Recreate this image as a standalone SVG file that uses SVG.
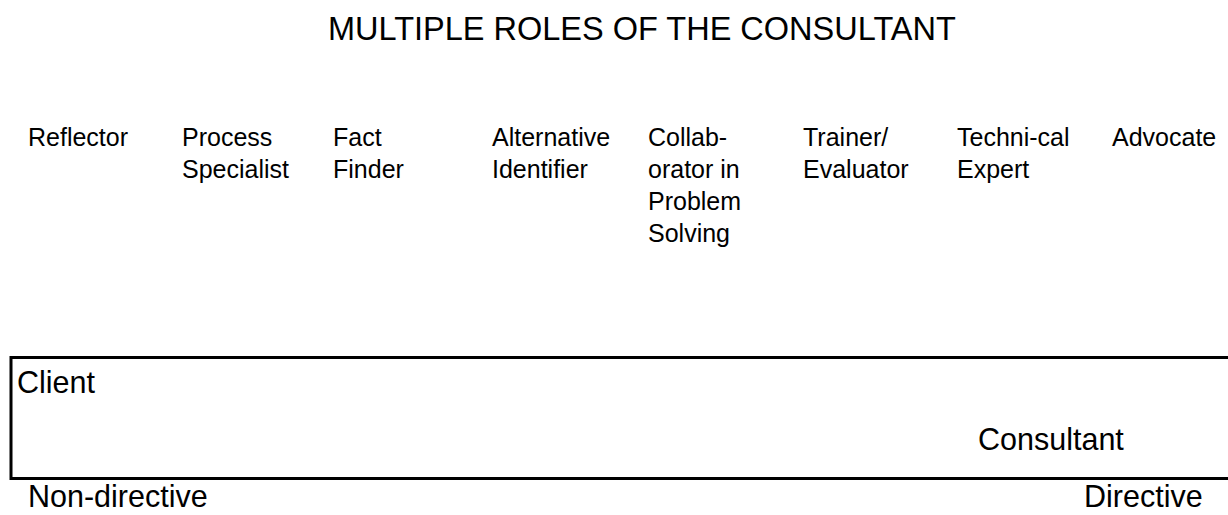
<svg xmlns="http://www.w3.org/2000/svg" width="1228" height="515" viewBox="0 0 1228 515">
<style>
text{font-family:"Liberation Sans",Arial,sans-serif;fill:#000}
.title{font-size:32.5px}
.lbl{font-size:25px}
.big{font-size:30.5px}
.box{fill:none;stroke:#000;stroke-width:3}
</style>
<rect width="1228" height="515" fill="#fff"/>
<g id="title"><text class="title" x="328" y="40">MULTIPLE ROLES OF THE CONSULTANT</text></g>
<g id="roles">
<g id="reflector"><text class="lbl" x="28" y="146">Reflector</text></g>
<g id="process-specialist"><text class="lbl" x="182" y="146">Process</text><text class="lbl" x="182" y="178">Specialist</text></g>
<g id="fact-finder"><text class="lbl" x="333" y="146">Fact</text><text class="lbl" x="333" y="178">Finder</text></g>
<g id="alternative-identifier"><text class="lbl" x="492" y="146">Alternative</text><text class="lbl" x="492" y="178">Identifier</text></g>
<g id="collaborator"><text class="lbl" x="648" y="146">Collab-</text><text class="lbl" x="648" y="178">orator in</text><text class="lbl" x="648" y="210">Problem</text><text class="lbl" x="648" y="242">Solving</text></g>
<g id="trainer-evaluator"><text class="lbl" x="803" y="146">Trainer/</text><text class="lbl" x="803" y="178">Evaluator</text></g>
<g id="technical-expert"><text class="lbl" x="957" y="146">Techni-cal</text><text class="lbl" x="957" y="178">Expert</text></g>
<g id="advocate"><text class="lbl" x="1112" y="146">Advocate</text></g>
</g>
<g id="continuum">
<rect class="box" x="11" y="357.5" width="1230" height="121"/>
<text class="big" x="17" y="393">Client</text>
<text class="big" x="978" y="450">Consultant</text>
</g>
<g id="scale">
<text class="big" x="28" y="507">Non-directive</text>
<text class="big" x="1084" y="507">Directive</text>
</g>
</svg>
